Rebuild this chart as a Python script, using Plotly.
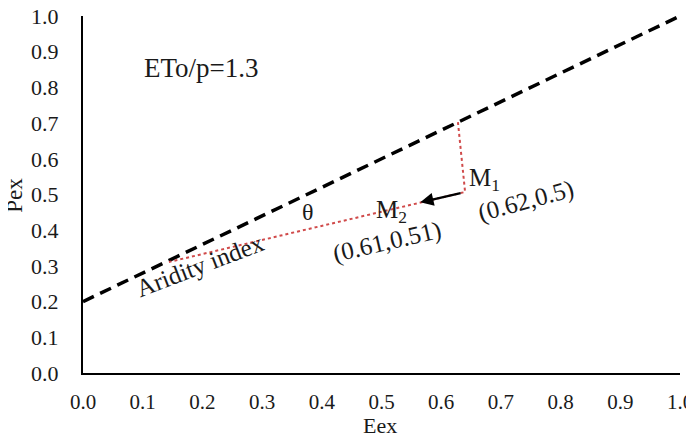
import plotly.graph_objects as go

# Data
line_x = [0.0, 1.0]
line_y = [0.2, 1.0]
path_x = [0.628, 0.640, 0.144]
path_y = [0.703, 0.507, 0.311]
arrow_tail = (0.635, 0.505)
arrow_head = (0.565, 0.478)
tick_vals = [i / 10 for i in range(11)]
tick_text = [f"{v:.1f}" for v in tick_vals]

FONT = "'Liberation Serif', 'Times New Roman', 'DejaVu Serif', serif"
TXT = "#1a1a1a"

fig = go.Figure()
fig.add_trace(go.Scatter(x=line_x, y=line_y, mode="lines",
                         line=dict(color="black", width=3.5, dash="12px,7px"),
                         showlegend=False, hoverinfo="skip"))
fig.add_trace(go.Scatter(x=path_x, y=path_y, mode="lines",
                         line=dict(color="#d04a4a", width=2, dash="dot"),
                         showlegend=False, hoverinfo="skip"))

fig.add_annotation(x=arrow_head[0], y=arrow_head[1], ax=arrow_tail[0], ay=arrow_tail[1],
                   xref="x", yref="y", axref="x", ayref="y", text="",
                   showarrow=True, arrowhead=2, arrowsize=1.2, arrowwidth=2.2,
                   arrowcolor="black")

texts = [
    ("ETo/p=1.3", 0.198, 0.853, 0, 27),
    ("M<sub>1</sub>", 0.672, 0.541, 0, 25),
    ("(0.62,0.5)", 0.742, 0.483, -15, 25),
    ("M<sub>2</sub>", 0.516, 0.451, 0, 25),
    ("(0.61,0.51)", 0.509, 0.366, -13, 25),
    ("θ", 0.377, 0.452, 0, 24),
    ("Aridity index", 0.196, 0.300, -21, 25),
]
for t, x, y, ang, sz in texts:
    fig.add_annotation(x=x, y=y, xref="x", yref="y", text=t, showarrow=False,
                       textangle=ang, font=dict(family=FONT, size=sz, color=TXT))

# axis titles
fig.add_annotation(x=0.4975, y=-0.146, xref="paper", yref="paper", text="Eex",
                   xanchor="center", yanchor="middle",
                   showarrow=False, font=dict(family=FONT, size=22, color=TXT))
fig.add_annotation(x=-0.114, y=0.499, xref="paper", yref="paper", text="Pex",
                   xanchor="center", yanchor="middle",
                   showarrow=False, textangle=-90, font=dict(family=FONT, size=23, color=TXT))

fig.update_xaxes(range=[0, 1], tickvals=tick_vals, ticktext=tick_text, automargin=False,
                 showgrid=False, zeroline=False, showline=True, linecolor="black",
                 linewidth=2, ticks="outside", ticklen=9, tickcolor="rgba(0,0,0,0)",
                 ticklabeloverflow="allow",
                 tickfont=dict(family=FONT, size=21, color=TXT))
fig.update_yaxes(range=[0, 1], tickvals=tick_vals, ticktext=tick_text, automargin=False,
                 showgrid=False, zeroline=False, showline=True, linecolor="black",
                 linewidth=2, ticks="outside", ticklen=18, tickcolor="rgba(0,0,0,0)",
                 ticklabeloverflow="allow",
                 tickfont=dict(family=FONT, size=22, color=TXT))

# page body has an 8px default margin; size the figure so no scrollbars appear
# and the plot area lands at x 83..680, y 16..373 in the window
fig.update_layout(width=680, height=425, autosize=False,
                  margin=dict(l=75, r=8, t=8, b=60),
                  plot_bgcolor="white", paper_bgcolor="white")
fig.write_html("out.html")
